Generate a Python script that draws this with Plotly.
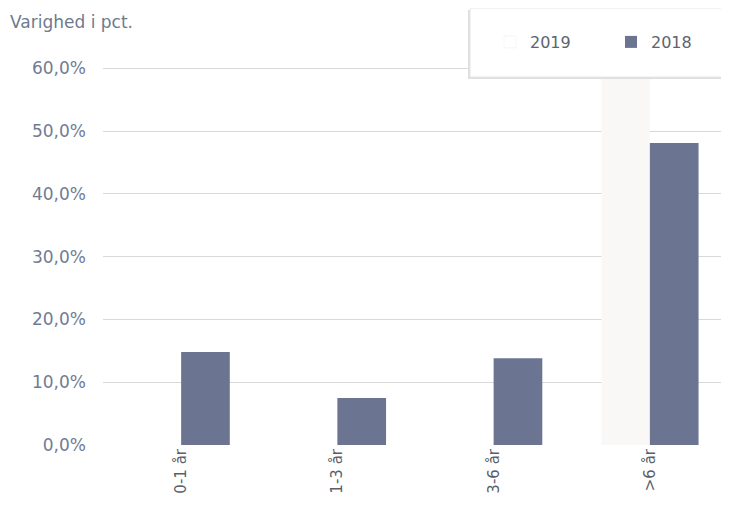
import plotly.graph_objects as go

categories = ["0-1 år", "1-3 år", "3-6 år", ">6 år"]
values_2019 = [None, None, None, None]
values_2018 = [14.8, 7.5, 13.8, 48.1]
y_ticks = [0, 10, 20, 30, 40, 50, 60]
y_tick_labels = [f"{v:.1f}%".replace(".", ",") for v in y_ticks]

OFF = 8  # default page body margin
W, H = 729 - OFF, 513 - OFF
L, R, T, B = 103 - OFF, 9 - OFF, 67 - OFF, 68
pw, ph = W - L - R, H - T - B

def px_x(x):
    return (x - OFF - L) / pw

def px_y(y):
    return (H - B - (y - OFF)) / ph

fig = go.Figure()
fig.add_trace(go.Bar(name="2019", x=categories, y=values_2019,
                     marker_color="rgba(0,0,0,0)", hoverinfo="skip"))
fig.add_trace(go.Bar(name="2018", x=categories, y=values_2018,
                     marker_color="#6b7592", marker_line_width=0))

# highlighted empty 2019 slot behind ">6 år"
fig.add_shape(type="rect", xref="x", yref="y", x0=2.69, x1=3.0, y0=0, y1=60,
              fillcolor="#faf8f7", line_width=0, layer="between")

# legend box with shadow
fig.add_shape(type="rect", xref="paper", yref="paper",
              x0=px_x(468), x1=px_x(760), y0=px_y(79), y1=px_y(10),
              fillcolor="#dedede", line_width=0, layer="above")
fig.add_shape(type="rect", xref="paper", yref="paper",
              x0=px_x(470), x1=px_x(760), y0=px_y(77), y1=px_y(8),
              fillcolor="white", line=dict(color="#e6e6e6", width=1), layer="above")

fig.update_layout(
    width=W, height=H,
    margin=dict(l=L, r=R, t=T, b=B, autoexpand=False),
    plot_bgcolor="white", paper_bgcolor="white",
    barmode="group", bargap=0.377, bargroupgap=0,
    font=dict(family="DejaVu Sans", color="#707c94"),
    title=dict(text="Varighed i pct.", x=(10 - OFF) / W, xanchor="left", xref="container",
               y=1 - (22 - OFF) / H, yanchor="middle", yref="container",
               font=dict(size=17, color="#6e7a90")),
    showlegend=True,
    legend=dict(orientation="h", x=px_x(490), xanchor="left",
                y=px_y(42), yanchor="middle",
                bgcolor="rgba(0,0,0,0)", borderwidth=0,
                font=dict(size=16, color="#5e6370"),
                entrywidth=76, entrywidthmode="pixels"),
    xaxis=dict(showgrid=False, showline=False, ticks="", tickangle=-90,
               tickfont=dict(size=15, color="#5a5f6a")),
    yaxis=dict(range=[0, 60.2], tickvals=y_ticks, ticktext=y_tick_labels,
               showgrid=True, gridcolor="#d9d9d9", gridwidth=1,
               zeroline=False, showline=False, ticks="",
               ticklabelstandoff=16,
               tickfont=dict(size=17, color="#707c94")),
)

fig.write_html("out.html")
